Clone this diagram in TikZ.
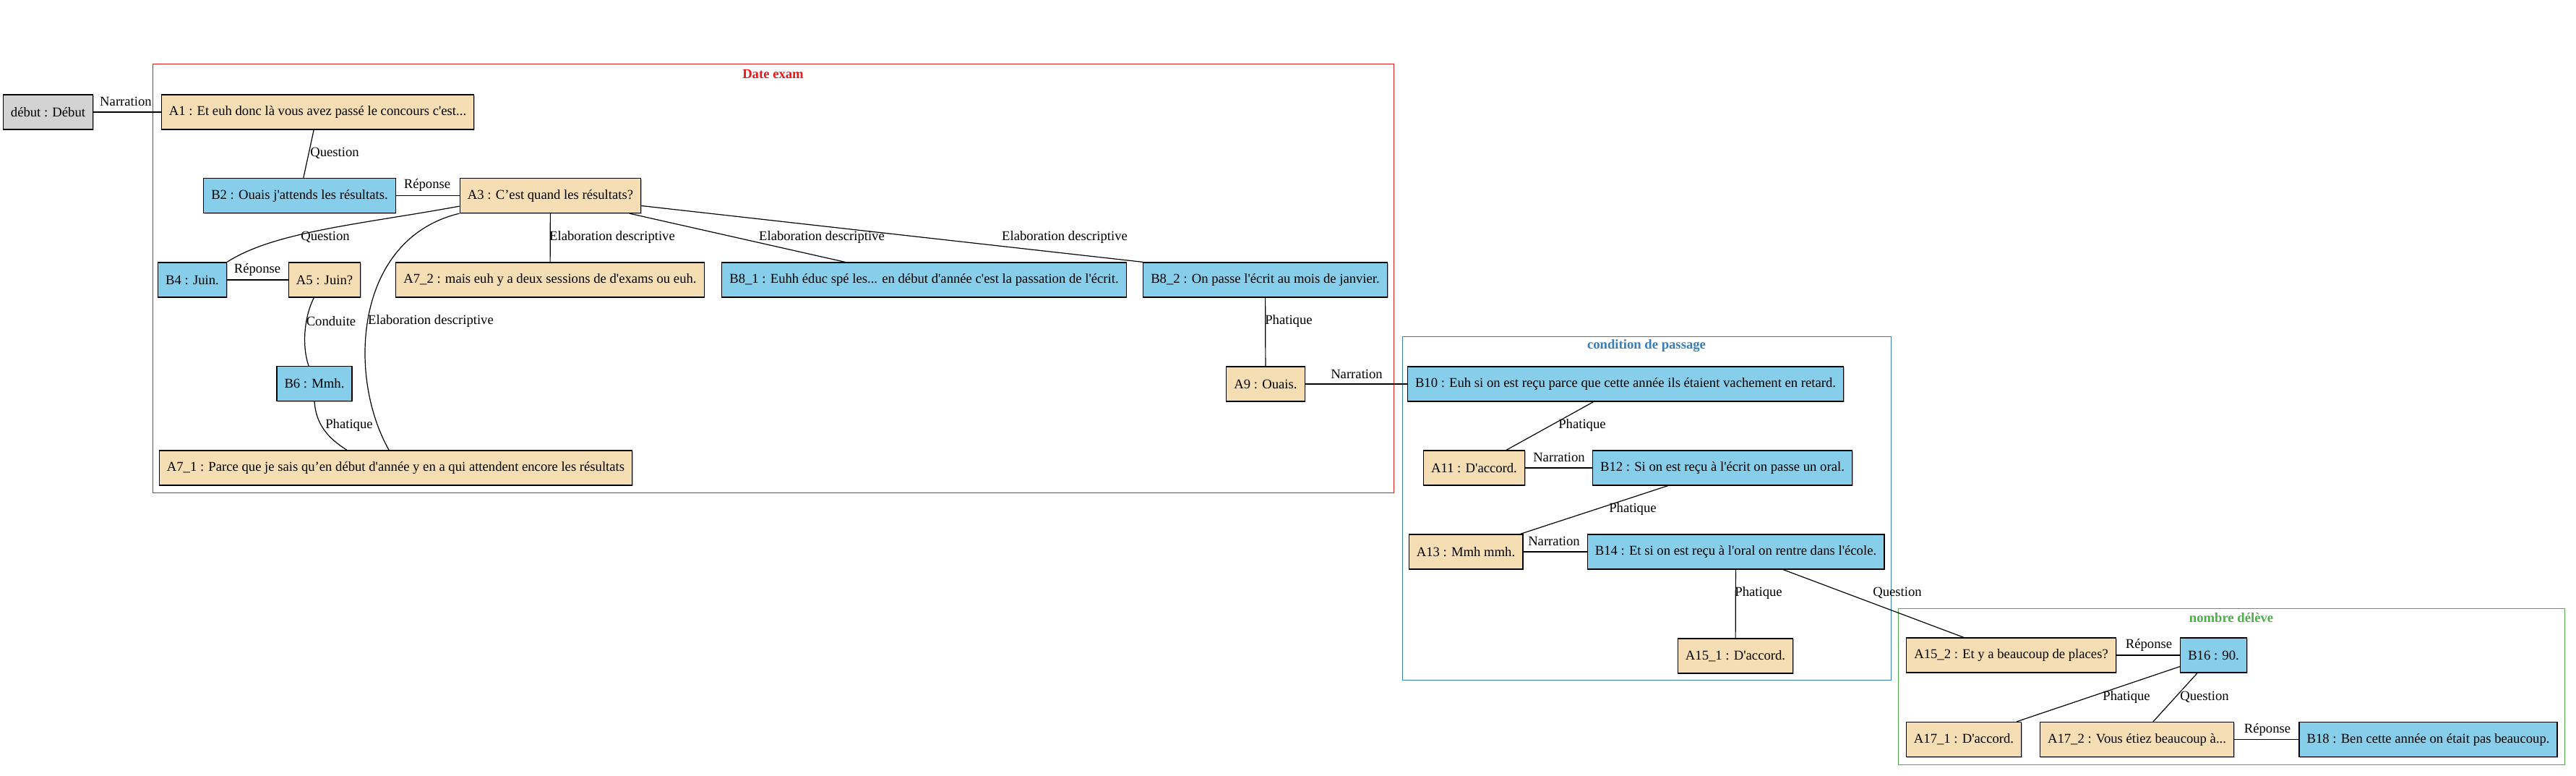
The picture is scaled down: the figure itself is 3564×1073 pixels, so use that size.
\documentclass[tikz,border=0pt]{standalone}
\usepackage{fontspec}
\setmainfont{Liberation Serif}[Ligatures=TeXOff]
\usetikzlibrary{shadows}

\definecolor{wheatA}{HTML}{F5DEB3}
\definecolor{skyB}{HTML}{87CEEB}
\definecolor{startgray}{HTML}{D3D3D3}
\definecolor{clred}{HTML}{E41A1C}
\definecolor{clblue}{HTML}{377EB8}
\definecolor{clgreen}{HTML}{4DAF4A}

\tikzset{
	utt/.style={draw, rectangle, line width=1pt, minimum height=36pt, inner xsep=8pt, inner ysep=0pt,
		drop shadow={shadow xshift=0.8pt, shadow yshift=-0.8pt, opacity=0.6, fill=gray}},
	spkA/.style={utt, fill=wheatA},
	spkB/.style={utt, fill=skyB},
	startnode/.style={utt, fill=startgray},
	rel/.style={inner sep=0pt},
	conn/.style={line width=0.9pt},
	cluster/.style={line width=0.75pt},
	cltitle/.style={font=\fontsize{14pt}{16pt}\selectfont\bfseries, inner sep=0pt},
}

\begin{document}
\begin{tikzpicture}[x=0.75pt, y=-0.75pt, every node/.style={font=\fontsize{14pt}{16pt}\selectfont}]
			\useasboundingbox (0,0) rectangle (3564,1073);

			% Clusters
			\draw[cluster, clred] (211,89) rectangle (1928,681);
			\node[cltitle, text=clred] (tdate) at (1069.5,102) {Date exam};
			\draw[cluster, clblue] (1940,465) rectangle (2616,940);
			\node[cltitle, text=clblue] (tcond) at (2278,478) {condition de passage};
			\draw[cluster, clgreen] (2626,841) rectangle (3548,1057);
			\node[cltitle, text=clgreen] (tnomb) at (3087,854) {nombre délève};

			% Utterances
			\node[startnode] (debut) at (66.5,155) {début : Début};
			\node[spkA] (a1) at (439.5,155) {A1 : Et euh donc là vous avez passé le concours c'est...};
			\node[spkB] (b2) at (414.5,270.5) {B2 : Ouais j'attends les résultats.};
			\node[spkA] (a3) at (761.5,270.5) {A3 : C’est quand les résultats?};
			\node[spkB] (b4) at (266,387) {B4 : Juin.};
			\node[spkA] (a5) at (449,387) {A5 : Juin?};
			\node[spkA] (a72) at (761,387) {A7\_2 : mais euh y a deux sessions de d'exams ou euh.};
			\node[spkB] (b81) at (1278.5,387) {B8\_1 : Euhh éduc spé les... en début d'année c'est la passation de l'écrit.};
			\node[spkB] (b82) at (1750.5,387) {B8\_2 : On passe l'écrit au mois de janvier.};
			\node[spkB] (b6) at (435,530.5) {B6 : Mmh.};
			\node[spkA] (a71) at (547.5,647) {A7\_1 : Parce que je sais qu’en début d'année y en a qui attendent encore les résultats};
			\node[spkA] (a9) at (1751,531) {A9 : Ouais.};
			\node[spkB] (b10) at (2249,531) {B10 : Euh si on est reçu parce que cette année ils étaient vachement en retard.};
			\node[spkA] (a11) at (2039.5,647) {A11 : D'accord.};
			\node[spkB] (b12) at (2383,647) {B12 : Si on est reçu à l'écrit on passe un oral.};
			\node[spkA] (a13) at (2028,763) {A13 : Mmh mmh.};
			\node[spkB] (b14) at (2401.5,763) {B14 : Et si on est reçu à l'oral on rentre dans l'école.};
			\node[spkA] (a151) at (2401,907) {A15\_1 : D'accord.};
			\node[spkA] (a152) at (2782.5,906) {A15\_2 : Et y a beaucoup de places?};
			\node[spkB] (b16) at (3062.5,906) {B16 : 90.};
			\node[spkA] (a171) at (2717,1022.5) {A17\_1 : D'accord.};
			\node[spkA] (a172) at (2956.5,1022.5) {A17\_2 : Vous étiez beaucoup à...};
			\node[spkB] (b18) at (3359.5,1022.5) {B18 : Ben cette année on était pas beaucoup.};

			% Relations
			\draw[conn] (debut) -- (a1);
			\draw[conn] (a1) -- (b2);
			\draw[conn] (b2) -- (a3);
			\draw[conn] ([yshift=-11pt]a3.west) .. controls (500,310) and (380,320) .. (b4.north east);
			\draw[conn] (b4) -- (a5);
			\draw[conn] ([xshift=-11pt]a5.south) .. controls (420,440) and (418,480) .. ([xshift=-6pt]b6.north);
			\draw[conn] (b6.south) .. controls (437,585) and (452,605) .. ([xshift=-50.6pt]a71.north);
			\draw[conn] (a3) -- (a72);
			\draw[conn] (a3.south west) .. controls (490,330) and (480,520) .. ([xshift=-7pt]a71.north);
			\draw[conn] (a3) -- (b81);
			\draw[conn] (a3) -- (b82.north west);
			\draw[conn] (b82) -- (a9);
			\draw[conn] (a9) -- (b10);
			\draw[conn] (b10) -- (a11);
			\draw[conn] (a11) -- (b12);
			\draw[conn] (b12) -- (a13);
			\draw[conn] (a13) -- (b14);
			\draw[conn] (b14) -- (a151);
			\draw[conn] (b14) -- (a152);
			\draw[conn] (a152) -- (b16);
			\draw[conn] (b16) -- (a171);
			\draw[conn] (b16) -- (a172);
			\draw[conn] (a172) -- (b18);

			% Relation labels
			\node[rel] (r1) at (174,140) {Narration};
			\node[rel] (r2) at (463,212) {Question};
			\node[rel] (r3) at (591,256) {Réponse};
			\node[rel] (r4) at (450,328) {Question};
			\node[rel] (r5) at (356,373) {Réponse};
			\node[rel] (r6) at (847,328) {Elaboration descriptive};
			\node[rel] (r7) at (1137,328) {Elaboration descriptive};
			\node[rel] (r8) at (1473,328) {Elaboration descriptive};
			\node[rel] (r9) at (596,444) {Elaboration descriptive};
			\node[rel] (r10) at (458,444) {Conduite};
			\node[rel] (r11) at (483,588) {Phatique};
			\node[rel] (r12) at (1783,444) {Phatique};
			\node[rel] (r13) at (1877,517) {Narration};
			\node[rel] (r14) at (2189,588) {Phatique};
			\node[rel] (r15) at (2157,632) {Narration};
			\node[rel] (r16) at (2259,704) {Phatique};
			\node[rel] (r17) at (2150,748) {Narration};
			\node[rel] (r18) at (2433,820) {Phatique};
			\node[rel] (r19) at (2625,820) {Question};
			\node[rel] (r20) at (2973,892) {Réponse};
			\node[rel] (r21) at (2942,964) {Phatique};
			\node[rel] (r22) at (3050,964) {Question};
			\node[rel] (r23) at (3137,1009) {Réponse};
		\end{tikzpicture}
\end{document}
